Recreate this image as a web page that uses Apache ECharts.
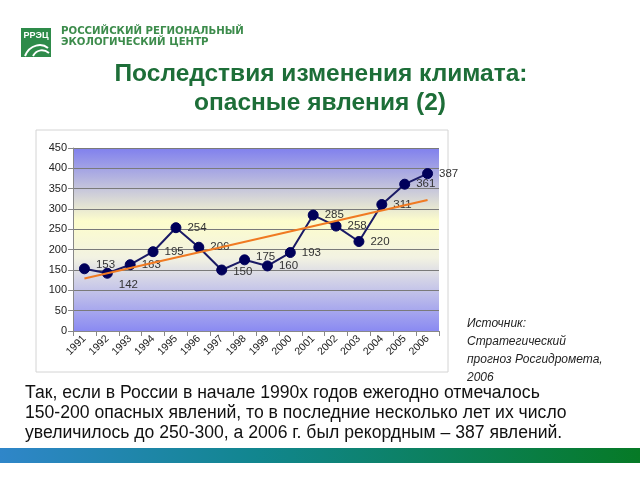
<!DOCTYPE html>
<html><head><meta charset="utf-8">
<script src="https://cdn.jsdelivr.net/npm/echarts@6/dist/echarts.min.js"></script>
<style>html,body{margin:0;padding:0;background:#fff}#c{width:640px;height:480px}</style>
</head><body><div id="c"></div>
<script>
const years = ['1991','1992','1993','1994','1995','1996','1997','1998','1999','2000','2001','2002','2003','2004','2005','2006'];
const events = [153,142,163,195,254,206,150,175,160,193,285,258,220,311,361,387];
const trendEnds = [129,322];
const yTicks = [0,50,100,150,200,250,300,350,400,450];

const labelOffsets = {1:[0,12],6:[0,2],0:[0,-4],7:[0,-3]};
const chart = echarts.init(document.getElementById('c'));
const green = '#1d6e38';
chart.setOption({
  animation:false,
  textStyle:{fontFamily:'Arial, Liberation Sans, sans-serif'},
  graphic:[
    {type:'rect',shape:{x:36,y:130,width:412,height:242},style:{fill:'#fff',stroke:'#d4d4d4',lineWidth:1},z:-10},
    {type:'rect',shape:{x:21,y:28,width:30,height:29},style:{fill:'#2e8b4a'}},
    {type:'text',x:36,y:36,style:{text:'РРЭЦ',fill:'#fff',font:'bold 9px Arial',align:'center',verticalAlign:'middle'}},
    {type:'bezierCurve',shape:{x1:25,y1:56,x2:48,y2:48,cpx1:30,cpy1:44,cpx2:42,cpy2:43},style:{stroke:'#fff',lineWidth:2,fill:null}},
    {type:'bezierCurve',shape:{x1:33,y1:56,x2:49,y2:53,cpx1:37,cpy1:49,cpx2:44,cpy2:49},style:{stroke:'#fff',lineWidth:2,fill:null}},
    {type:'text',x:61,y:31,style:{text:'РОССИЙСКИЙ РЕГИОНАЛЬНЫЙ',fill:'#3d8c4c',font:'bold 10.2px DejaVu Sans',verticalAlign:'middle'}},
    {type:'text',x:61,y:42,style:{text:'ЭКОЛОГИЧЕСКИЙ ЦЕНТР',fill:'#3d8c4c',font:'bold 10.2px DejaVu Sans',verticalAlign:'middle'}},
    {type:'text',x:321,y:74,style:{text:'Последствия изменения климата:',fill:green,font:'bold 24.5px Arial',align:'center',verticalAlign:'middle'}},
    {type:'text',x:320,y:103,style:{text:'опасные явления (2)',fill:green,font:'bold 24.5px Arial',align:'center',verticalAlign:'middle'}},
    {type:'text',x:467,y:315,style:{text:'Источник:\nСтратегический\nпрогноз Росгидромета,\n2006',fill:'#222',font:'italic 12px Arial',lineHeight:18,verticalAlign:'top'}},
    {type:'text',x:25,y:383,style:{text:'Так, если в России в начале 1990х годов ежегодно отмечалось\n150-200 опасных явлений, то в последние несколько лет их число\nувеличилось до 250-300, а 2006 г. был рекордным – 387 явлений.',fill:'#111',font:'17.6px Arial',lineHeight:20,verticalAlign:'top'}},
    {type:'rect',shape:{x:0,y:448,width:640,height:15},style:{fill:new echarts.graphic.LinearGradient(0,0,1,0,[{offset:0,color:'#2f86c9'},{offset:0.4,color:'#11868f'},{offset:1,color:'#067a26'}])}}
  ],
  grid:{left:73,right:201,top:148,bottom:149,show:true,borderWidth:0,
    backgroundColor:new echarts.graphic.LinearGradient(0,0,0,1,[{offset:0,color:'#8080ee'},{offset:0.4,color:'#fdfdcc'},{offset:0.6,color:'#f2f2e2'},{offset:1,color:'#8a8af2'}])},
  xAxis:{type:'category',data:years,boundaryGap:true,
    axisLine:{lineStyle:{color:'#888'}},axisTick:{show:true,lineStyle:{color:'#888'}},
    axisLabel:{rotate:45,fontSize:10.5,color:'#222',margin:6,interval:0}},
  yAxis:{type:'value',min:0,max:450,interval:50,
    axisLine:{show:true,lineStyle:{color:'#888'}},axisTick:{show:true,lineStyle:{color:'#888'}},
    splitLine:{lineStyle:{color:'#7a7a7a',width:1}},
    axisLabel:{fontSize:11,color:'#222',margin:6,formatter:v=>yTicks.includes(v)?String(v):''}},
  series:[
    {type:'line',data:events.map((v,i)=>{const o=labelOffsets[i];return o?{value:v,label:{offset:o}}:v;}),
      symbol:'circle',symbolSize:10,z:3,
      lineStyle:{color:'#1a1a66',width:2},itemStyle:{color:'#00005a',borderColor:'#00005a'},
      label:{show:true,position:'right',distance:6,fontSize:11.5,color:'#333'}},
    {type:'line',data:[[years[0],trendEnds[0]],[years[years.length-1],trendEnds[1]]],symbol:'none',z:4,
      lineStyle:{color:'#f07a22',width:2},silent:true}
  ]
});
</script></body></html>
